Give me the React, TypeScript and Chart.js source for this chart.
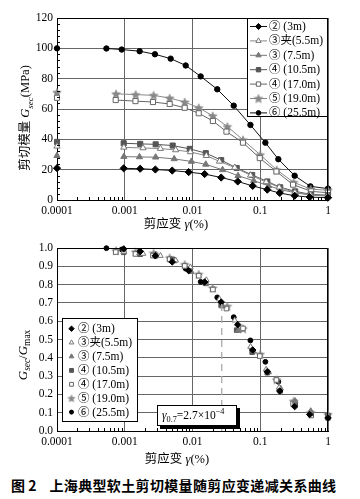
import React, { useEffect, useRef } from 'react';
import { Chart, registerables } from 'chart.js';
Chart.register(...registerables);

// ---------------- data ----------------
const SERIES_LABELS = ['② (3m)', '③夹(5.5m)', '③ (7.5m)', '④ (10.5m)', '④ (17.0m)', '⑤ (19.0m)', '⑥ (25.5m)'];

// first entry of every series = G_max plotted at γ = 0.0001 %
const STRAIN_2 = [0.0001, 0.000965, 0.00169, 0.00283, 0.00502, 0.00879, 0.0151, 0.0265, 0.0465, 0.0774, 0.127, 0.194, 0.3225, 0.537, 1];
const G_2 = [21, 20.9, 20.6, 20.1, 19.4, 18.4, 17.1, 14.8, 12.2, 9.3, 6.8, 4.6, 2.8, 1.9, 1.5];

const STRAIN_3J = [0.0001, 0.00097, 0.00186, 0.00336, 0.00565, 0.0093, 0.016, 0.025, 0.042, 0.072, 0.122, 0.19, 0.325, 0.55, 1];
const G_3J = [35.4, 34.7, 34.3, 33.9, 33.0, 31.7, 29.2, 25.5, 21.4, 16.3, 11.9, 8.4, 5.0, 3.4, 2.8];

const STRAIN_3 = [0.0001, 0.00097, 0.00165, 0.00286, 0.00537, 0.00964, 0.0157, 0.0278, 0.047, 0.08, 0.133, 0.2, 0.328, 0.556, 1];
const G_3 = [29.2, 28.6, 28.4, 28.2, 27.1, 25.4, 23.5, 19.9, 16.0, 12.7, 9.4, 6.8, 4.8, 3.2, 2.5];

const STRAIN_4A = [0.0001, 0.000965, 0.00169, 0.00286, 0.0051, 0.0091, 0.0157, 0.0265, 0.0449, 0.076, 0.127, 0.197, 0.328, 0.556, 1];
const G_4A = [38.3, 37.4, 37.0, 36.7, 35.9, 33.7, 30.9, 26.3, 21.1, 16.5, 12.2, 8.4, 5.7, 3.7, 3.2];

const STRAIN_4B = [0.0001, 0.000735, 0.00144, 0.00261, 0.0046, 0.00767, 0.01236, 0.02, 0.0317, 0.0556, 0.0984, 0.173, 0.305, 0.565, 1];
const G_4B = [67.4, 65.9, 65.2, 64.6, 63.3, 60.8, 57.2, 52.1, 45.1, 37.8, 27.6, 18.8, 10.1, 5.7, 4.8];

const STRAIN_5 = [0.0001, 0.000743, 0.00145, 0.00267, 0.0046, 0.00767, 0.01236, 0.0199, 0.0327, 0.0556, 0.0998, 0.175, 0.312, 0.556, 1];
const G_5 = [71, 70, 69.5, 69, 67.2, 64.6, 60.8, 55.5, 48.4, 39.7, 29.8, 19.9, 11.6, 7.2, 6.4];

const STRAIN_6 = [0.0001, 0.000536, 0.000902, 0.00166, 0.00279, 0.00476, 0.00794, 0.0132, 0.0232, 0.0406, 0.0716, 0.119, 0.185, 0.322, 0.55, 1];
const G_6 = [100, 99.9, 99.2, 98.1, 96.1, 93.2, 88.7, 81.5, 73, 62.2, 49.5, 37.8, 26.9, 16, 9, 7.5];

const SERIES_STRAINS = [STRAIN_2, STRAIN_3J, STRAIN_3, STRAIN_4A, STRAIN_4B, STRAIN_5, STRAIN_6];
const SERIES_G = [G_2, G_3J, G_3, G_4A, G_4B, G_5, G_6];

const X_TICKS = [0.0001, 0.001, 0.01, 0.1, 1];
const X_TICK_LABELS = ['0.0001', '0.001', '0.01', '0.1', '1'];
const TOP_Y_TICKS = [0, 20, 40, 60, 80, 100, 120];
const TOP_Y_LABELS = ['0', '20', '40', '60', '80', '100', '120'];
const BOTTOM_Y_TICKS = [0, 0.1, 0.2, 0.3, 0.4, 0.5, 0.6, 0.7, 0.8, 0.9, 1.0];
const BOTTOM_Y_LABELS = ['0.0', '0.1', '0.2', '0.3', '0.4', '0.5', '0.6', '0.7', '0.8', '0.9', '1.0'];

const GAMMA_07 = 0.027; // % (2.7×10^-4)
const GAMMA_07_LEVEL = 0.7;

const CAPTION_NO = '图 2';
const CAPTION_TEXT = '上海典型软土剪切模量随剪应变递减关系曲线';

// ---------------- styles ----------------
const FONT = "'Liberation Serif', 'Noto Sans CJK SC', serif";

type Style = { shape: string; r: number; fill: string; stroke: string; line: string };
const STYLES: Style[] = [
  { shape: 'rectRot', r: 3.6, fill: '#000', stroke: '#000', line: '#111' },
  { shape: 'triangle', r: 3.6, fill: '#fff', stroke: '#777', line: '#888' },
  { shape: 'triangle', r: 3.6, fill: '#777', stroke: '#777', line: '#777' },
  { shape: 'rect', r: 3.6, fill: '#555', stroke: '#555', line: '#555' },
  { shape: 'rect', r: 3.6, fill: '#fff', stroke: '#666', line: '#666' },
  { shape: 'star', r: 4.6, fill: '#888', stroke: '#888', line: '#888' },
  { shape: 'circle', r: 2.7, fill: '#000', stroke: '#000', line: '#111' },
];

function makeStar(r: number, fill: string, stroke: string) {
  const s = Math.ceil(r * 2 + 2);
  const c = document.createElement('canvas');
  c.width = s;
  c.height = s;
  const g = c.getContext('2d')!;
  g.beginPath();
  for (let i = 0; i < 10; i++) {
    const a = -Math.PI / 2 + (i * Math.PI) / 5;
    const rr = i % 2 === 0 ? r : r * 0.45;
    g.lineTo(s / 2 + rr * Math.cos(a), s / 2 + 0.5 + rr * Math.sin(a));
  }
  g.closePath();
  g.fillStyle = fill;
  g.fill();
  g.strokeStyle = stroke;
  g.lineWidth = 0.6;
  g.stroke();
  return c;
}

function drawMarker(ctx: CanvasRenderingContext2D, st: Style, x: number, y: number, r: number, star?: HTMLCanvasElement) {
  if (st.shape === 'star' && star) {
    ctx.drawImage(star, x - star.width / 2, y - star.height / 2);
    return;
  }
  ctx.save();
  ctx.fillStyle = st.fill;
  ctx.strokeStyle = st.stroke;
  ctx.lineWidth = 1;
  ctx.beginPath();
  if (st.shape === 'circle') {
    ctx.arc(x, y, r, 0, Math.PI * 2);
  } else if (st.shape === 'rect') {
    const h = r * Math.SQRT1_2;
    ctx.rect(x - h, y - h, 2 * h, 2 * h);
  } else if (st.shape === 'rectRot') {
    ctx.moveTo(x, y - r);
    ctx.lineTo(x + r, y);
    ctx.lineTo(x, y + r);
    ctx.lineTo(x - r, y);
    ctx.closePath();
  } else if (st.shape === 'triangle') {
    let a = 0;
    ctx.moveTo(x + Math.sin(a) * r, y - Math.cos(a) * r);
    a += (2 * Math.PI) / 3;
    ctx.lineTo(x + Math.sin(a) * r, y - Math.cos(a) * r);
    a += (2 * Math.PI) / 3;
    ctx.lineTo(x + Math.sin(a) * r, y - Math.cos(a) * r);
    ctx.closePath();
  }
  ctx.fill();
  ctx.stroke();
  ctx.restore();
}

type Seg = { t: string; it?: boolean; sub?: boolean; sup?: boolean };
function drawRich(ctx: CanvasRenderingContext2D, segs: Seg[], x: number, yMid: number, size: number, align: 'left' | 'center') {
  const fontFor = (s: Seg) => `${s.it ? 'italic ' : ''}${s.sub || s.sup ? size * 0.72 : size}px ${FONT}`;
  let total = 0;
  for (const s of segs) {
    ctx.font = fontFor(s);
    total += ctx.measureText(s.t).width;
  }
  let cx = align === 'center' ? x - total / 2 : x;
  const base = yMid + size * 0.35;
  ctx.textAlign = 'left';
  ctx.textBaseline = 'alphabetic';
  ctx.fillStyle = '#000';
  for (const s of segs) {
    ctx.font = fontFor(s);
    const dy = s.sub ? size * 0.28 : s.sup ? -size * 0.42 : 0;
    ctx.fillText(s.t, cx, base + dy);
    cx += ctx.measureText(s.t).width;
  }
}

function drawFrameAndMinor(chart: any, yMinor: number[]) {
  const { ctx, chartArea, scales } = chart;
  const { left, right, top, bottom } = chartArea;
  ctx.save();
  ctx.strokeStyle = '#000';
  ctx.lineWidth = 1;
  ctx.beginPath();
  ctx.moveTo(left, Math.round(top) + 0.5);
  ctx.lineTo(Math.round(right) - 0.5, Math.round(top) + 0.5);
  ctx.lineTo(Math.round(right) - 0.5, bottom);
  for (let d = -4; d < 0; d++) {
    for (let k = 2; k < 10; k++) {
      const px = Math.round(scales.x.getPixelForValue(k * Math.pow(10, d))) + 0.5;
      ctx.moveTo(px, bottom);
      ctx.lineTo(px, bottom - 3);
    }
  }
  yMinor.forEach((v) => {
    const py = Math.round(scales.y.getPixelForValue(v)) + 0.5;
    ctx.moveTo(left, py);
    ctx.lineTo(left + 3, py);
  });
  ctx.stroke();
  ctx.restore();
}

const tickFont = { family: FONT, size: 11.5 };

function xScale(height: number) {
  return {
    type: 'logarithmic' as const,
    min: 0.0001,
    max: 1,
    afterBuildTicks: (s: any) => {
      s.ticks = X_TICKS.map((v) => ({ value: v }));
    },
    afterFit: (s: any) => {
      s.height = height;
    },
    ticks: {
      autoSkip: false,
      maxRotation: 0,
      color: '#000',
      font: tickFont,
      padding: 4,
      callback: (_v: any, i: number) => X_TICK_LABELS[i],
    },
    grid: { color: '#666', lineWidth: 1, drawTicks: false },
    border: { color: '#000', width: 1 },
  };
}

function yScale(min: number, max: number, ticks: number[], labels: string[]) {
  return {
    type: 'linear' as const,
    min,
    max,
    afterBuildTicks: (s: any) => {
      s.ticks = ticks.map((v) => ({ value: v }));
    },
    afterFit: (s: any) => {
      s.width = 57;
    },
    ticks: {
      color: '#000',
      font: tickFont,
      padding: 4,
      callback: (_v: any, i: number) => labels[i],
    },
    grid: { color: '#666', lineWidth: 1, drawTicks: false },
    border: { color: '#000', width: 1 },
  };
}

export default function App() {
  const topRef = useRef<HTMLCanvasElement>(null);
  const botRef = useRef<HTMLCanvasElement>(null);

  useEffect(() => {
    const starBig = makeStar(4.6, '#888', '#888');
    const starSmall = makeStar(3.8, '#888', '#888');

    // ---------- top chart ----------
    const topDatasets = SERIES_LABELS.map((label, k) => {
      const st = STYLES[k];
      return {
        label,
        data: SERIES_STRAINS[k].map((x, i) => ({ x, y: SERIES_G[k][i] })),
        showLine: true,
        borderColor: st.line,
        borderWidth: 1,
        segment: {
          borderColor: (c: any) => (c.p0DataIndex === 0 ? 'rgba(0,0,0,0)' : st.line),
        },
        pointStyle: st.shape === 'star' ? starBig : st.shape,
        pointRadius: st.r,
        pointBackgroundColor: st.fill,
        pointBorderColor: st.stroke,
        pointBorderWidth: 1,
        clip: false,
      };
    });

    const yMinorTop: number[] = [];
    for (let v = 4; v < 120; v += 4) if (v % 20 !== 0) yMinorTop.push(v);

    const topDecor = {
      id: 'topDecor',
      afterDraw(chart: any) {
        const { ctx, chartArea } = chart;
        const { top, right, bottom } = chartArea;
        drawFrameAndMinor(chart, yMinorTop);
        // legend box
        const x1 = Math.round(right);
        const x0 = x1 - 81;
        const y0 = Math.round(top);
        const y1 = y0 + 99;
        ctx.save();
        ctx.fillStyle = '#fff';
        ctx.fillRect(x0, y0, x1 - x0, y1 - y0);
        ctx.strokeStyle = '#000';
        ctx.lineWidth = 1;
        ctx.strokeRect(x0 + 0.5, y0 + 0.5, x1 - x0 - 1, y1 - y0 - 1);
        SERIES_LABELS.forEach((lab, i) => {
          const st = STYLES[i];
          const yy = y0 + 8.5 + i * 14.4;
          ctx.strokeStyle = st.line;
          ctx.beginPath();
          ctx.moveTo(x0 + 3, yy);
          ctx.lineTo(x0 + 20, yy);
          ctx.stroke();
          drawMarker(ctx, st, x0 + 11.5, yy, st.r * 0.85, starBig);
          ctx.fillStyle = '#000';
          ctx.font = `11.5px ${FONT}`;
          ctx.textAlign = 'left';
          ctx.textBaseline = 'middle';
          ctx.fillText(lab, x0 + 22, yy + 0.5);
        });
        // axis titles
        ctx.save();
        ctx.translate(25, 118);
        ctx.rotate(-Math.PI / 2);
        drawRich(ctx, [{ t: '剪切模量 ' }, { t: 'G', it: true }, { t: 'sec', it: true, sub: true }, { t: '(MPa)' }], 0, 0, 12.5, 'center');
        ctx.restore();
        drawRich(ctx, [{ t: '剪应变 ' }, { t: 'γ', it: true }, { t: '(%)' }], 176, bottom + 24, 12.5, 'center');
        ctx.restore();
      },
    };

    const topChart = new Chart(topRef.current!, {
      type: 'scatter',
      data: { datasets: topDatasets as any },
      options: {
        responsive: false,
        animation: false,
        events: [],
        layout: { padding: { top: 18, right: 32, left: 0, bottom: 0 } },
        plugins: { legend: { display: false }, tooltip: { enabled: false } },
        scales: {
          x: xScale(32) as any,
          y: yScale(0, 120, TOP_Y_TICKS, TOP_Y_LABELS) as any,
        },
      },
      plugins: [topDecor],
    });

    // ---------- bottom chart ----------
    const botDatasets: any[] = SERIES_LABELS.map((label, k) => {
      const st = STYLES[k];
      const gmax = SERIES_G[k][0];
      return {
        label,
        data: SERIES_STRAINS[k].slice(1).map((x, i) => ({ x, y: SERIES_G[k][i + 1] / gmax })),
        showLine: false,
        pointStyle: st.shape === 'star' ? starBig : st.shape,
        pointRadius: st.r * 0.9,
        pointBackgroundColor: st.fill,
        pointBorderColor: st.stroke,
        pointBorderWidth: 1,
        clip: false,
      };
    });
    botDatasets.unshift({
      label: 'gamma07',
      data: [
        { x: GAMMA_07, y: 0 },
        { x: GAMMA_07, y: GAMMA_07_LEVEL },
      ],
      showLine: true,
      borderColor: '#aaa',
      borderWidth: 1.3,
      borderDash: [7, 5],
      pointRadius: 0,
    });

    const botDecor = {
      id: 'botDecor',
      afterDraw(chart: any) {
        const { ctx, chartArea } = chart;
        const { left, bottom } = chartArea;
        drawFrameAndMinor(chart, []);
        ctx.save();
        // legend
        const x0 = Math.round(left) + 5;
        const y1 = Math.round(bottom) - 9;
        const y0 = y1 - 104;
        const x1 = x0 + 76;
        ctx.fillStyle = '#fff';
        ctx.fillRect(x0, y0, x1 - x0, y1 - y0);
        ctx.strokeStyle = '#000';
        ctx.lineWidth = 1;
        ctx.strokeRect(x0 + 0.5, y0 + 0.5, x1 - x0 - 1, y1 - y0 - 1);
        SERIES_LABELS.forEach((lab, i) => {
          const st = STYLES[i];
          const yy = y0 + 10.7 + i * 13.9;
          drawMarker(ctx, st, x0 + 9.5, yy, st.r * 0.75, starSmall);
          ctx.fillStyle = '#000';
          ctx.font = `11.5px ${FONT}`;
          ctx.textAlign = 'left';
          ctx.textBaseline = 'middle';
          ctx.fillText(lab, x0 + 16, yy + 0.5);
        });
        // annotation box
        const ax0 = Math.round(left) + 100;
        const ay0 = Math.round(bottom) - 26;
        const aw = 80;
        const ah = 21;
        ctx.fillStyle = '#000';
        ctx.fillRect(ax0 + 3, ay0 + 3, aw, ah);
        ctx.fillStyle = '#fff';
        ctx.fillRect(ax0, ay0, aw, ah);
        ctx.strokeRect(ax0 + 0.5, ay0 + 0.5, aw - 1, ah - 1);
        drawRich(
          ctx,
          [{ t: 'γ', it: true }, { t: '0.7', sub: true }, { t: '=2.7×10' }, { t: '−4', sup: true }],
          ax0 + 5,
          ay0 + ah / 2 - 0.5,
          11.5,
          'left'
        );
        // titles
        ctx.save();
        ctx.translate(22, 123);
        ctx.rotate(-Math.PI / 2);
        drawRich(ctx, [{ t: 'G', it: true }, { t: 'sec', it: true, sub: true }, { t: '/' }, { t: 'G', it: true }, { t: 'max', sub: true }], 0, 0, 13, 'center');
        ctx.restore();
        drawRich(ctx, [{ t: '剪应变 ' }, { t: 'γ', it: true }, { t: '(%)' }], 177, bottom + 28, 12.5, 'center');
        ctx.restore();
      },
    };

    const botChart = new Chart(botRef.current!, {
      type: 'scatter',
      data: { datasets: botDatasets },
      options: {
        responsive: false,
        animation: false,
        events: [],
        layout: { padding: { top: 16, right: 32, left: 0, bottom: 0 } },
        plugins: { legend: { display: false }, tooltip: { enabled: false } },
        scales: {
          x: xScale(41) as any,
          y: yScale(0, 1, BOTTOM_Y_TICKS, BOTTOM_Y_LABELS) as any,
        },
      },
      plugins: [botDecor],
    });

    return () => {
      topChart.destroy();
      botChart.destroy();
    };
  }, []);

  return (
    <div style={{ position: 'absolute', left: 0, top: 0, width: 360, height: 499, background: '#fff', overflow: 'hidden' }}>
      <canvas ref={topRef} width={360} height={232} style={{ position: 'absolute', left: 0, top: 0, width: 360, height: 232 }} />
      <canvas ref={botRef} width={360} height={240} style={{ position: 'absolute', left: 0, top: 232, width: 360, height: 240 }} />
      <div
        style={{
          position: 'absolute',
          left: 11,
          top: 476,
          width: 345,
          height: 18,
          lineHeight: '18px',
          fontFamily: "'Noto Sans CJK SC', sans-serif",
          fontWeight: 'bold',
          fontSize: 14,
          whiteSpace: 'nowrap',
          color: '#000',
        }}
      >
        <span>{CAPTION_NO}</span>
        <span style={{ marginLeft: 13, letterSpacing: 0.35 }}>{CAPTION_TEXT}</span>
      </div>
    </div>
  );
}
